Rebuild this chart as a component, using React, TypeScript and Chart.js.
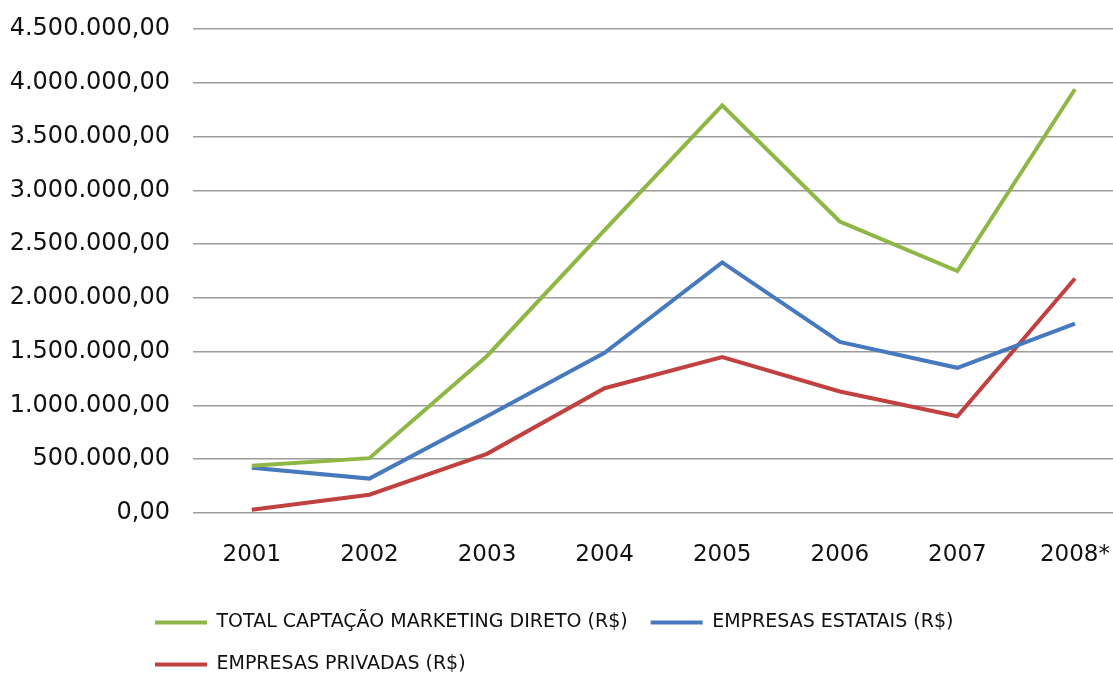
import React, { useEffect, useRef } from "react";
import { Chart, registerables } from "chart.js";

Chart.register(...registerables);

// ---- data ----
const years = ["2001", "2002", "2003", "2004", "2005", "2006", "2007", "2008*"];
const totalMarketing = [440000, 510000, 1460000, 2630000, 3790000, 2710000, 2250000, 3940000];
const estatais = [420000, 320000, 900000, 1490000, 2330000, 1590000, 1350000, 1760000];
const privadas = [30000, 170000, 550000, 1160000, 1450000, 1130000, 900000, 2180000];
const seriesLabels = [
  "TOTAL CAPTAÇÃO MARKETING DIRETO (R$)",
  "EMPRESAS ESTATAIS (R$)",
  "EMPRESAS PRIVADAS (R$)",
];
const yMin = 0;
const yMax = 4500000;
const yStep = 500000;

// ---- style ----
const CANVAS_W = 1138;
const CANVAS_H = 673;
const FONT = "'DejaVu Sans', 'Verdana', sans-serif";
const LEGEND_X = 155;
const LEGEND_TOP = 590;

function formatBR(v: number): string {
  const [i, d] = v.toFixed(2).split(".");
  return i.replace(/\B(?=(\d{3})+(?!\d))/g, ".") + "," + d;
}

const legendPlacement = {
  id: "legendPlacement",
  afterLayout(chart: any) {
    const lg = chart.legend;
    if (!lg) return;
    const pad = lg.options.labels.padding;
    const h = lg.height;
    lg.left = LEGEND_X - pad;
    lg.right = 1100;
    lg.top = LEGEND_TOP;
    lg.bottom = LEGEND_TOP + h;
    lg.width = lg.right - lg.left;
  },
};

export default function App() {
  const ref = useRef<HTMLCanvasElement | null>(null);

  useEffect(() => {
    if (!ref.current) return;
    const chart = new Chart(ref.current, {
      type: "line",
      data: {
        labels: years,
        datasets: [
          {
            label: seriesLabels[0],
            data: totalMarketing,
            borderColor: "#8FB746",
            backgroundColor: "#8FB746",
            borderWidth: 4,
            pointRadius: 0,
            tension: 0,
          },
          {
            label: seriesLabels[1],
            data: estatais,
            borderColor: "#4679BD",
            backgroundColor: "#4679BD",
            borderWidth: 4,
            pointRadius: 0,
            tension: 0,
          },
          {
            label: seriesLabels[2],
            data: privadas,
            borderColor: "#C0413F",
            backgroundColor: "#C0413F",
            borderWidth: 4,
            pointRadius: 0,
            tension: 0,
          },
        ],
      },
      options: {
        responsive: false,
        animation: false,
        layout: { padding: { top: 29, left: 0, right: 0, bottom: 0 } },
        plugins: {
          tooltip: { enabled: false },
          title: { display: false },
          legend: {
            display: true,
            position: "bottom",
            align: "start",
            fullSize: false,
            labels: {
              usePointStyle: true,
              pointStyle: "line",
              pointStyleWidth: 52,
              boxHeight: 19,
              padding: 23,
              color: "#111",
              font: { family: FONT, size: 19 },
            },
          },
        },
        scales: {
          x: {
            type: "category",
            offset: true,
            grid: { display: false, drawTicks: false },
            border: { display: false },
            ticks: {
              color: "#111",
              padding: 28,
              font: { family: FONT, size: 23 },
              maxRotation: 0,
            },
            afterFit: (scale: any) => {
              scale.height = 66;
            },
          },
          y: {
            min: yMin,
            max: yMax,
            grid: { color: "#9c9c9c", lineWidth: 1.6, drawTicks: false },
            border: { display: false },
            ticks: {
              stepSize: yStep,
              color: "#111",
              padding: 23,
              font: { family: FONT, size: 24 },
              callback: (v: any) => formatBR(Number(v)),
            },
            afterFit: (scale: any) => {
              scale.width = 193;
              scale.paddingTop = 0;
              scale.paddingBottom = 0;
            },
          },
        },
      },
      plugins: [legendPlacement],
    });
    return () => chart.destroy();
  }, []);

  return (
    <div
      style={{
        position: "fixed",
        left: 0,
        top: 0,
        width: 1113,
        height: 673,
        overflow: "hidden",
        background: "#fff",
      }}
    >
      <canvas
        ref={ref}
        width={CANVAS_W}
        height={CANVAS_H}
        style={{ width: CANVAS_W, height: CANVAS_H, display: "block" }}
      />
    </div>
  );
}
